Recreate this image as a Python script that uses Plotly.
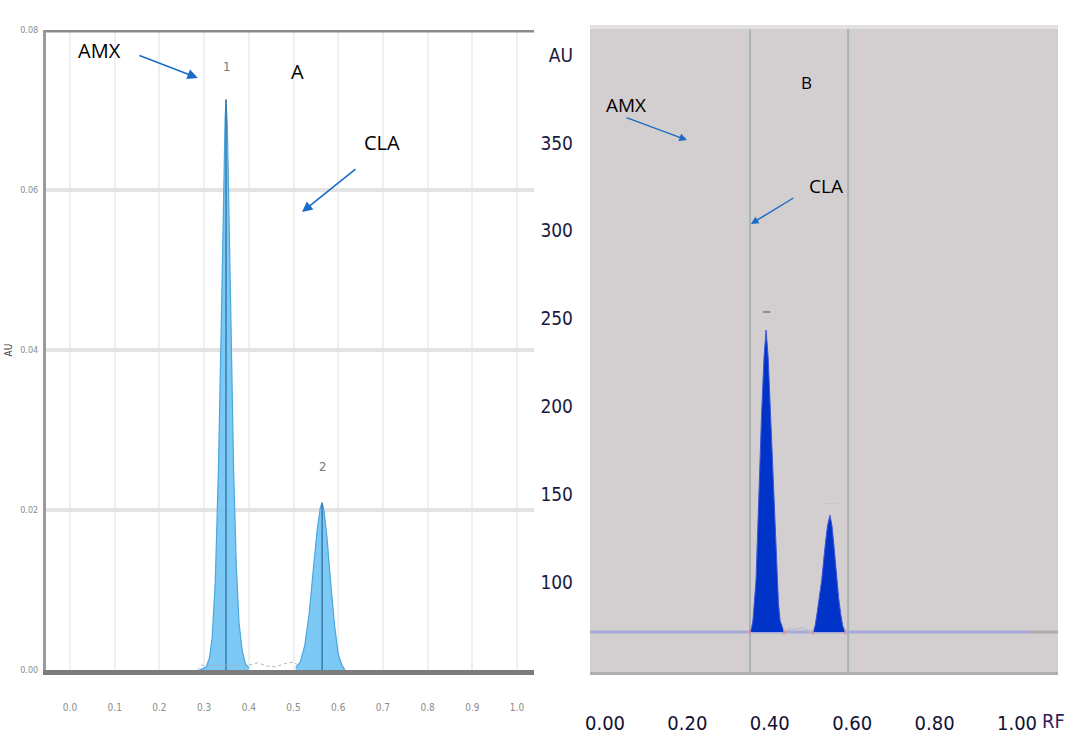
import plotly.graph_objects as go

# ---------------- Panel A data (Rf vs AU) ----------------
a_amx_rf = [0.290, 0.305, 0.312, 0.318, 0.325, 0.332, 0.338, 0.343, 0.347, 0.349,
            0.352, 0.356, 0.361, 0.366, 0.372, 0.378, 0.385, 0.392, 0.400]
a_amx_au = [0.0, 0.0004, 0.0015, 0.0040, 0.0110, 0.0250, 0.0420, 0.0580, 0.0690, 0.0713,
            0.0680, 0.0560, 0.0400, 0.0250, 0.0130, 0.0060, 0.0025, 0.0008, 0.0003]
a_cla_rf = [0.505, 0.515, 0.525, 0.535, 0.545, 0.553, 0.560, 0.564, 0.568, 0.575,
            0.583, 0.592, 0.600, 0.608, 0.615]
a_cla_au = [0.0003, 0.0010, 0.0030, 0.0070, 0.0130, 0.0175, 0.0203, 0.0209, 0.0200, 0.0165,
            0.0110, 0.0055, 0.0020, 0.0006, 0.0]
a_noise_rf = [0.285, 0.295, 0.40, 0.42, 0.44, 0.46, 0.48, 0.50, 0.51]
a_noise_au = [0.0, 0.0006, 0.0006, 0.0009, 0.0005, 0.0004, 0.0008, 0.0010, 0.0006]
a_xticks = [0.0, 0.1, 0.2, 0.3, 0.4, 0.5, 0.6, 0.7, 0.8, 0.9, 1.0]
a_xtext = ["0.0", "0.1", "0.2", "0.3", "0.4", "0.5", "0.6", "0.7", "0.8", "0.9", "1.0"]
a_yticks = [0.0, 0.02, 0.04, 0.06, 0.08]
a_ytext = ["0.00", "0.02", "0.04", "0.06", "0.08"]

# ---------------- Panel B data (Rf vs AU) ----------------
b_amx_rf = [0.352, 0.356, 0.359, 0.363, 0.3665, 0.370, 0.3745, 0.380, 0.386, 0.391,
            0.396, 0.402, 0.408, 0.413, 0.4175, 0.421, 0.425, 0.430, 0.4345]
b_amx_au = [71.5, 74, 78, 88, 101, 125, 158, 195, 228, 243.5,
            228, 195, 158, 125, 101, 88, 78, 74, 71.5]
b_cla_rf = [0.505, 0.510, 0.5146, 0.520, 0.526, 0.534, 0.540, 0.546, 0.551, 0.556,
            0.5624, 0.567, 0.572, 0.577, 0.583]
b_cla_au = [71.5, 75, 82, 92, 101, 120, 132, 138, 132, 120,
            101, 91, 82, 75, 71.5]
b_noise_rf = [0.4345, 0.445, 0.46, 0.475, 0.49, 0.505]
b_noise_au = [71.5, 73.5, 73.0, 74.0, 73.0, 71.5]
b_base_rf = [-0.04, 1.03]
b_base_au = [71.5, 71.5]
b_base_grey_rf = [1.03, 1.10]
b_markers = [0.352, 0.590]
b_xticks = [0.0, 0.2, 0.4, 0.6, 0.8, 1.0]
b_xtext = ["0.00", "0.20", "0.40", "0.60", "0.80", "1.00"]
b_yticks = [100, 150, 200, 250, 300, 350, 400]
b_ytext = ["100", "150", "200", "250", "300", "350", "AU"]

fig = go.Figure()

# Panel A peaks
A_FILL = "rgba(110,195,245,0.9)"
A_LINE = "#4ba6de"
for rf, au in [(a_amx_rf, a_amx_au), (a_cla_rf, a_cla_au)]:
    fig.add_trace(go.Scatter(x=rf, y=au, mode="lines", fill="tozeroy",
                             fillcolor=A_FILL, line=dict(color=A_LINE, width=1.2),
                             xaxis="x", yaxis="y", hoverinfo="skip", showlegend=False))
    i = au.index(max(au))
    fig.add_trace(go.Scatter(x=[rf[i], rf[i]], y=[0, au[i]], mode="lines",
                             line=dict(color="#2f6f9f", width=1.3),
                             xaxis="x", yaxis="y", hoverinfo="skip", showlegend=False))
fig.add_trace(go.Scatter(x=a_noise_rf, y=a_noise_au, mode="lines",
                         line=dict(color="#b0b0b0", width=1, dash="dot"),
                         xaxis="x", yaxis="y", hoverinfo="skip", showlegend=False))

# Panel B peaks
B_FILL = "#0033c8"
fig.add_trace(go.Scatter(x=b_base_rf, y=b_base_au, mode="lines",
                         line=dict(color="#aaaad8", width=3),
                         xaxis="x2", yaxis="y2", hoverinfo="skip", showlegend=False))
fig.add_trace(go.Scatter(x=b_base_grey_rf, y=b_base_au, mode="lines",
                         line=dict(color="#b0aaab", width=3),
                         xaxis="x2", yaxis="y2", hoverinfo="skip", showlegend=False))
fig.add_trace(go.Scatter(x=b_noise_rf, y=b_noise_au, mode="lines",
                         line=dict(color="#b8c4d0", width=1.5),
                         xaxis="x2", yaxis="y2", hoverinfo="skip", showlegend=False))
for rf, au in [(b_amx_rf, b_amx_au), (b_cla_rf, b_cla_au)]:
    fig.add_trace(go.Scatter(x=rf, y=au, mode="lines", fill="toself",
                             fillcolor=B_FILL, line=dict(color="#3d55d8", width=1),
                             xaxis="x2", yaxis="y2", hoverinfo="skip", showlegend=False))
    fig.add_trace(go.Scatter(x=[rf[0], rf[-1]], y=[au[0], au[-1]], mode="markers",
                             marker=dict(color="#f08a8a", size=4, symbol="line-ns-open",
                                         line=dict(color="#f08a8a", width=1.5)),
                             xaxis="x2", yaxis="y2", hoverinfo="skip", showlegend=False))

shapes = [
    # Panel A top border
    dict(type="line", xref="x domain", yref="y", x0=0, x1=1, y0=0.08, y1=0.08,
         line=dict(color="#8a8a8a", width=5)),
    # Panel B background and top strip
    dict(type="rect", xref="x2 domain", yref="y2 domain", x0=0, x1=1, y0=0, y1=1,
         fillcolor="#d3cfd0", line=dict(width=0), layer="below"),
    dict(type="rect", xref="x2 domain", yref="paper", x0=0, x1=1,
         y0=1 - 29 / 738, y1=1 - 25 / 738, fillcolor="#e2e0e0", line=dict(width=0)),
]
for m in b_markers:
    shapes.append(dict(type="line", xref="x2", yref="y2 domain", x0=m, x1=m, y0=0, y1=1,
                       line=dict(color="#a9b4ba", width=2), layer="below"))

TXT = dict(family="Open Sans, Liberation Sans, sans-serif", size=20, color="#000000")
TXTB = dict(family="Open Sans, Liberation Sans, sans-serif", size=19, color="#000000")
ARW = "#1a6cc8"
annotations = [
    # Panel A
    dict(x=0.065, y=0.0775, xref="x", yref="y", text="AMX", showarrow=False, font=TXT),
    dict(x=0.286, y=0.0740, xref="x", yref="y", ax=0.152, ay=0.0769, axref="x", ayref="y",
         text="", showarrow=True, arrowhead=2, arrowsize=1.3, arrowwidth=1.6, arrowcolor=ARW),
    dict(x=0.508, y=0.0748, xref="x", yref="y", text="A", showarrow=False, font=TXT),
    dict(x=0.698, y=0.0660, xref="x", yref="y", text="CLA", showarrow=False, font=TXT),
    dict(x=0.519, y=0.05725, xref="x", yref="y", ax=0.642, ay=0.06275, axref="x", ayref="y",
         text="", showarrow=True, arrowhead=2, arrowsize=1.3, arrowwidth=1.6, arrowcolor=ARW),
    dict(x=0.349, y=0.0755, xref="x", yref="y", text="1", showarrow=False,
         font=dict(family="DejaVu Sans Condensed, sans-serif", size=13, color="#777777")),
    dict(x=0.564, y=0.0255, xref="x", yref="y", text="2", showarrow=False,
         font=dict(family="DejaVu Sans Condensed, sans-serif", size=13, color="#777777")),
    # Panel B
    dict(x=0.488, y=384.7, xref="x2", yref="y2", text="B", showarrow=False,
         font=dict(family="Open Sans, sans-serif", size=17, color="#000000")),
    dict(x=0.051, y=371.6, xref="x2", yref="y2", text="AMX", showarrow=False, font=TXTB),
    dict(x=0.199, y=351.7, xref="x2", yref="y2", ax=0.0485, ay=364.8, axref="x2", ayref="y2",
         text="", showarrow=True, arrowhead=2, arrowsize=1.1, arrowwidth=1.4, arrowcolor=ARW),
    dict(x=0.536, y=325.5, xref="x2", yref="y2", text="CLA", showarrow=False, font=TXTB),
    dict(x=0.354, y=303.9, xref="x2", yref="y2", ax=0.461, ay=319.2, axref="x2", ayref="y2",
         text="", showarrow=True, arrowhead=2, arrowsize=1.1, arrowwidth=1.4, arrowcolor=ARW),
    dict(x=b_amx_rf[b_amx_au.index(max(b_amx_au))], y=max(b_amx_au) + 11, xref="x2", yref="y2",
         text="\u25ac", showarrow=False, font=dict(size=7, color="#8e8e8e")),
    dict(x=b_cla_rf[b_cla_au.index(max(b_cla_au))], y=max(b_cla_au) + 7, xref="x2", yref="y2",
         text="- - - -", showarrow=False, font=dict(size=6, color="#9a9a9a")),
    dict(x=1.0, y=1 - 721 / 738, xref="paper", yref="paper", text="RF",
         xanchor="right", yanchor="middle", showarrow=False,
         font=dict(family="DejaVu Sans Condensed, sans-serif", size=20, color="#3a1a5a")),
]

fig.update_layout(
    width=1067, height=738,
    margin=dict(l=0, r=0, t=0, b=0, autoexpand=False),
    paper_bgcolor="#ffffff", plot_bgcolor="#ffffff",
    showlegend=False,
    shapes=shapes, annotations=annotations,
    xaxis=dict(domain=[46 / 1067, 534 / 1067], anchor="y", range=[-0.0537, 1.038],
               automargin=False,
               tickvals=a_xticks, ticktext=a_xtext, ticks="", ticklabelstandoff=24,
               tickfont=dict(family="DejaVu Sans Condensed, sans-serif", size=10, color="#8c8c8c"),
               showgrid=True, gridcolor="#efefef", gridwidth=2, zeroline=False,
               showline=True, linecolor="#7c7c7c", linewidth=5),
    yaxis=dict(domain=[1 - 670 / 738, 1 - 30 / 738], anchor="x", range=[0, 0.08],
               automargin=False,
               tickvals=a_yticks, ticktext=a_ytext, ticks="", ticklabelstandoff=3,
               tickfont=dict(family="DejaVu Sans Condensed, sans-serif", size=9, color="#8c8c8c"),
               showgrid=True, gridcolor="#e4e4e4", gridwidth=4, zeroline=False,
               showline=True, linecolor="#9a9a9a", linewidth=3,
               title=dict(text="AU", standoff=6,
                          font=dict(family="DejaVu Sans Condensed, sans-serif", size=10, color="#444444"))),
    xaxis2=dict(domain=[590 / 1067, 1058 / 1067], anchor="y2", range=[-0.0364, 1.0995],
                automargin=False,
                tickvals=b_xticks, ticktext=b_xtext, ticks="", ticklabelstandoff=31,
                tickfont=dict(family="DejaVu Sans Condensed, sans-serif",
                              size=20, color="#111133"),
                showgrid=False, zeroline=False,
                showline=True, linecolor="#b4b0b1", linewidth=3),
    yaxis2=dict(domain=[1 - 672 / 738, 1 - 29 / 738], anchor="x2", range=[48.75, 414.9],
                automargin=False,
                tickvals=b_yticks, ticktext=b_ytext, ticks="", ticklabelstandoff=16,
                tickfont=dict(family="DejaVu Sans Condensed, sans-serif",
                              size=19, color="#1a1a40"),
                showgrid=False, zeroline=False, showline=False),
)

fig.write_html("out.html")
